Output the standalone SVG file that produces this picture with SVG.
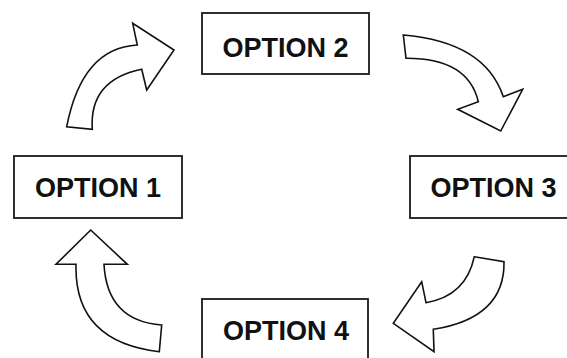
<svg xmlns="http://www.w3.org/2000/svg" width="567" height="358" viewBox="0 0 567 358">
<style>
.box{fill:#fff;stroke:#1a1a1a;stroke-width:1.8}
.lbl{font-family:"Liberation Sans",Arial,sans-serif;font-weight:bold;font-size:27px;fill:#111;text-anchor:middle}
.arr{fill:#fff;stroke:#111;stroke-width:1.6;stroke-linejoin:miter}
</style>
<rect width="567" height="358" fill="#fff"/>
<g id="connectors">
<path class="arr" d="M66.7,126.7 Q82,48 137.3,45 L132.7,23.3 L174,50 L146.7,90 L141.7,69.3 Q89,80 92.3,129.3 Z"/>
<path class="arr" d="M403.3,35 Q485,42 503.3,96.7 L522.7,89.3 L500.7,131 L457.7,109.3 L478.3,101.7 Q468,58 406,58.3 Z"/>
<path class="arr" d="M474.3,256.7 L504,261.7 Q505,318 433.3,329.3 L434,351.7 L393.3,323.3 L421.7,281.7 L426,302.7 Q466,296 474.3,256.7 Z"/>
<path class="arr" d="M90.7,230 L127.3,264.3 L104,264.3 Q107,321 161.7,325 L159.3,351.7 Q74,342 76,264.3 L56,264.3 Z"/>
</g>
<g id="option1">
<rect class="box" x="14" y="156" width="168" height="62"/>
<text class="lbl" x="98" y="197">OPTION 1</text>
</g>
<g id="option2">
<rect class="box" x="202" y="13" width="167" height="61"/>
<text class="lbl" x="285.5" y="56.5">OPTION 2</text>
</g>
<g id="option3">
<rect class="box" x="410" y="156" width="162" height="62"/>
<text class="lbl" x="493.5" y="197">OPTION 3</text>
</g>
<g id="option4">
<rect class="box" x="202" y="299" width="166" height="64"/>
<text class="lbl" x="286" y="340">OPTION 4</text>
</g>
</svg>
